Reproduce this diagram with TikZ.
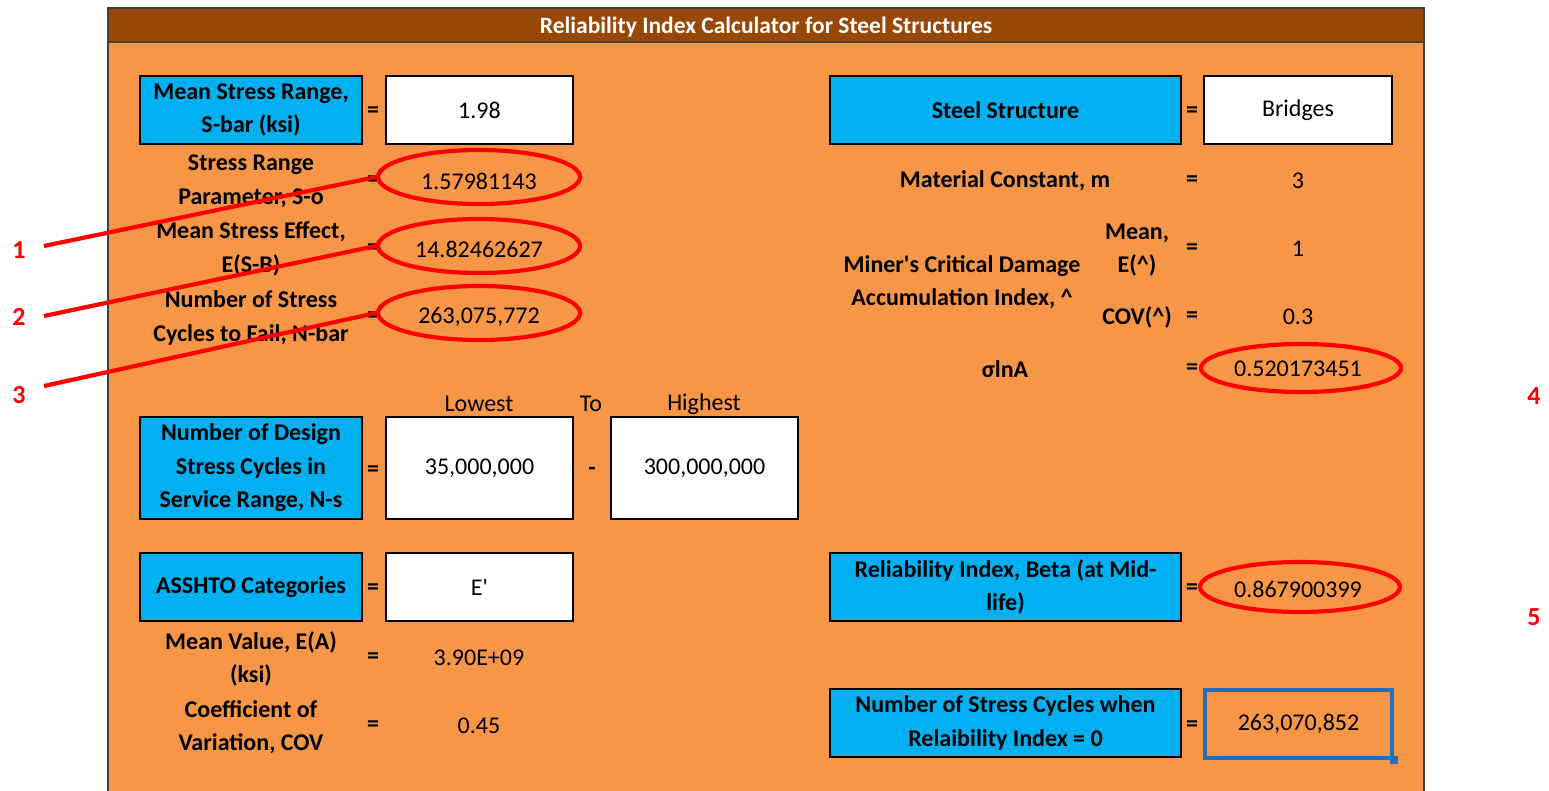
\documentclass[tikz,border=0pt]{standalone}
\usepackage{fontspec}
\setmainfont{Carlito}
\usetikzlibrary{shapes.geometric}
\definecolor{panel}{HTML}{F79646}
\definecolor{titlebar}{HTML}{974706}
\definecolor{cellblue}{HTML}{00B0F0}
\definecolor{selblue}{HTML}{1F6FC2}
\definecolor{callred}{HTML}{FF0000}
\tikzset{
  txt/.style={font=\fontsize{24}{33.5}\selectfont, align=center, inner sep=0pt, text=black},
  lbl/.style={txt, font=\fontsize{24}{33.5}\selectfont\bfseries},
  bluebox/.style={lbl, draw=black, fill=cellblue, line width=1.4pt},
  whitebox/.style={txt, draw=black, fill=white, line width=1.4pt},
  eqsign/.style={txt, font=\fontsize{24}{33.5}\selectfont\bfseries},
  redring/.style={ellipse, draw=callred, line width=4.2pt, inner sep=0pt},
  callnum/.style={font=\fontsize{26}{30}\selectfont\bfseries, text=callred, inner sep=0pt},
  callline/.style={draw=callred, line width=4.2pt}
}
\begin{document}
\begin{tikzpicture}[x=1pt,y=-1pt]
\useasboundingbox (0,0) rectangle (1549,790);
\fill[white] (0,0) rectangle (1549,790);
% panel
\draw[fill=panel, draw=black!75, line width=1.6pt] (108,8) rectangle (1424,800);
\draw[fill=titlebar, draw=black!75, line width=1.6pt] (108,8) rectangle (1424,42);
\node[lbl, text=white, font=\fontsize{23.5}{26}\selectfont\bfseries] (title) at (766,27) {Reliability Index Calculator for Steel Structures};

% ---------- left column ----------
\node[bluebox, minimum width=222, minimum height=68] (sbarL) at (251,110) {Mean Stress Range,\\S-bar (ksi)};
\node[eqsign] (sbarE) at (373,112) {=};
\node[whitebox, minimum width=187, minimum height=68] (sbarV) at (479.5,110) {1.98};

\node[lbl] (soL) at (251,181) {Stress Range\\Parameter, S-o};
\node[eqsign] (soE) at (373,181) {=};
\node[txt] (soV) at (479,181) {1.57981143};

\node[lbl] (esbL) at (251,249) {Mean Stress Effect,\\E(S-B)};
\node[eqsign] (esbE) at (373,249) {=};
\node[txt] (esbV) at (479,249) {14.82462627};

\node[lbl] (nbarL) at (251,318) {Number of Stress\\Cycles to Fail, N-bar};
\node[eqsign] (nbarE) at (373,317) {=};
\node[txt] (nbarV) at (479,317) {263,075,772};

\node[txt] (low) at (479,404) {Lowest};
\node[txt] (to) at (591,404) {To};
\node[txt] (high) at (704,404) {Highest};

\node[bluebox, minimum width=222, minimum height=102] (nsL) at (251,468) {Number of Design\\Stress Cycles in\\Service Range, N-s};
\node[eqsign] (nsE) at (373,471) {=};
\node[whitebox, minimum width=187, minimum height=102] (nsLow) at (479.5,468) {35,000,000};
\node[eqsign] (nsDash) at (592,471) {-};
\node[whitebox, minimum width=187, minimum height=102] (nsHigh) at (704.5,468) {300,000,000};

\node[bluebox, minimum width=222, minimum height=68] (catL) at (251,587) {ASSHTO Categories};
\node[eqsign] (catE) at (373,589) {=};
\node[whitebox, minimum width=187, minimum height=68] (catV) at (479.5,587) {E\textquotesingle};

\node[lbl] (eaL) at (251,659) {Mean Value, E(A)\\(ksi)};
\node[eqsign] (eaE) at (373,658) {=};
\node[txt] (eaV) at (479,658) {3.90E+09};

\node[lbl] (covL) at (251,727) {Coefficient of\\Variation, COV};
\node[eqsign] (covE) at (373,726) {=};
\node[txt] (covV) at (479,726) {0.45};

% ---------- right column ----------
\node[bluebox, minimum width=351, minimum height=68] (ssL) at (1005.5,110) {Steel Structure};
\node[eqsign] (ssE) at (1192,112) {=};
\node[whitebox, minimum width=188, minimum height=68] (ssV) at (1298,110) {Bridges};

\node[lbl] (mL) at (1005,181) {Material Constant, m};
\node[eqsign] (mE) at (1192,181) {=};
\node[txt] (mV) at (1298,181) {3};

\node[lbl] (minerL) at (962,282) {Miner\textquotesingle s Critical Damage\\Accumulation Index, \textasciicircum};
\node[lbl] (meanL) at (1137,250) {Mean,\\E(\textasciicircum)};
\node[eqsign] (meanE) at (1192,249) {=};
\node[txt] (meanV) at (1298,249) {1};
\node[lbl] (covmL) at (1137,317) {COV(\textasciicircum)};
\node[eqsign] (covmE) at (1192,317) {=};
\node[txt] (covmV) at (1298,317) {0.3};

\node[lbl] (sigL) at (1005,369) {σlnA};
\node[eqsign] (sigE) at (1192,369) {=};
\node[txt] (sigV) at (1298,369) {0.520173451};

\node[bluebox, minimum width=351, minimum height=68] (betaL) at (1005.5,587) {Reliability Index, Beta (at Mid-\\life)};
\node[eqsign] (betaE) at (1192,589) {=};
\node[txt] (betaV) at (1298,589) {0.867900399};

\node[bluebox, minimum width=351, minimum height=68] (n0L) at (1005.5,723) {Number of Stress Cycles when\\Relaibility Index = 0};
\node[eqsign] (n0E) at (1192,726) {=};
\node[txt, draw=selblue, line width=3.2pt, minimum width=187, minimum height=68] (n0V) at (1298.5,724) {263,070,852};
\node[fill=selblue, minimum size=8, inner sep=0pt] (handle) at (n0V.south east) {};

% ---------- red callouts ----------
\node[redring, minimum width=202, minimum height=54] (r1) at (479,177) {};
\node[redring, minimum width=202, minimum height=54] (r2) at (479,246) {};
\node[redring, minimum width=202, minimum height=54] (r3) at (479,313) {};
\node[redring, minimum width=200, minimum height=48] (r4) at (1301,368) {};
\node[redring, minimum width=200, minimum height=50] (r5) at (1300,587) {};

\node[callnum] (c1) at (19,250) {1};
\node[callnum] (c2) at (19,317) {2};
\node[callnum] (c3) at (19,395) {3};
\node[callnum] (c4) at (1534,396) {4};
\node[callnum] (c5) at (1534,617) {5};

\coordinate (s1) at (44,246);
\coordinate (s2) at (44,316);
\coordinate (s3) at (44,386);
\draw[callline] (s1) -- (r1.west);
\draw[callline] (s2) -- (r2.west);
\draw[callline] (s3) -- (r3.west);
\end{tikzpicture}
\end{document}
